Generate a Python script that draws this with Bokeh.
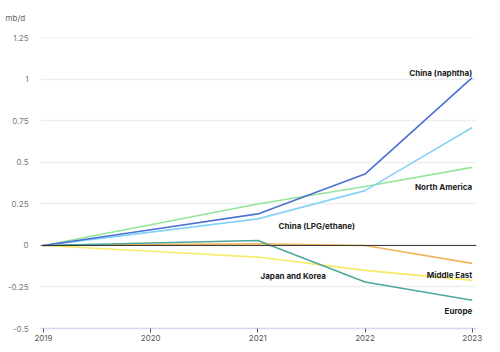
from bokeh.plotting import figure
from bokeh.models import FixedTicker, Label, Span
from bokeh.embed import file_html
from bokeh.resources import INLINE

years = [2019, 2020, 2021, 2022, 2023]
china_naphtha = [0, 0.095, 0.19, 0.43, 1.01]
china_lpg = [0, 0.08, 0.16, 0.33, 0.71]
north_america = [0, 0.125, 0.25, 0.355, 0.47]
europe = [0, 0.015, 0.03, -0.22, -0.33]
middle_east = [0, 0.005, 0.01, 0.0, -0.108]
japan_korea = [0, -0.035, -0.07, -0.15, -0.21]

series = [
    ("North America", north_america, "#93e59a"),
    ("Japan and Korea", japan_korea, "#f7ea6a"),
    ("Middle East", middle_east, "#f2b45c"),
    ("Europe", europe, "#4ea89c"),
    ("China (LPG/ethane)", china_lpg, "#86d3f7"),
    ("China (naphtha)", china_naphtha, "#4c6fd1"),
]

y_ticks = [-0.5, -0.25, 0, 0.25, 0.5, 0.75, 1, 1.25]
y_tick_labels = ["-0.5", "-0.25", "0", "0.25", "0.5", "0.75", "1", "1.25"]

# label anchors (data coords) and alignment
labels = [
    ("China (naphtha)", 2023, 1.04, "right"),
    ("North America", 2023, 0.35, "right"),
    ("China (LPG/ethane)", 2021.55, 0.12, "center"),
    ("Middle East", 2023, -0.175, "right"),
    ("Japan and Korea", 2021.33, -0.185, "center"),
    ("Europe", 2023, -0.395, "right"),
]

p = figure(width=500, height=352, output_backend="svg", toolbar_location=None,
           x_range=(2018.972, 2023.04), y_range=(-0.5, 1.252),
           min_border_left=40, min_border_right=24, min_border_top=37, min_border_bottom=24,
           title="mb/d")
p.title.text_font = "Inter"
p.title.text_font_size = "8px"
p.title.text_font_style = "normal"
p.title.text_color = "#666666"
p.title.align = "left"
p.title.offset = -35
p.title.standoff = 25
p.title.vertical_align = "top"
p.outline_line_color = None
p.background_fill_color = "white"
p.border_fill_color = "white"

p.xgrid.grid_line_color = None
p.ygrid.grid_line_color = "#eeeeee"
p.ygrid.grid_line_width = 1.5
p.yaxis.ticker = FixedTicker(ticks=y_ticks)
p.yaxis.major_label_overrides = {t: l for t, l in zip(y_ticks, y_tick_labels)}
p.yaxis.axis_line_color = None
p.yaxis.major_tick_line_color = None
p.yaxis.minor_tick_line_color = None
p.yaxis.major_label_text_font_size = "8px"
p.yaxis.major_label_text_color = "#777777"
p.yaxis.major_label_text_font = "Inter"
p.yaxis.major_label_standoff = 6

p.xaxis.ticker = FixedTicker(ticks=years)
p.xaxis.axis_line_color = "#d4d8f2"
p.xaxis.axis_line_width = 1.5
p.xaxis.major_tick_line_color = "#555555"
p.xaxis.major_tick_in = 0
p.xaxis.major_tick_out = 4
p.xaxis.minor_tick_line_color = None
p.xaxis.major_label_text_font_size = "8px"
p.xaxis.major_label_text_color = "#555555"
p.xaxis.major_label_text_font = "Inter"
p.xaxis.major_label_standoff = 2

p.add_layout(Span(location=0, dimension="width", line_color="#333333", line_width=1))

for name, vals, color in series:
    p.line(years, vals, line_color=color, line_width=1.6)

for text, x, y, align in labels:
    p.add_layout(Label(x=x, y=y, text=text, text_align=align, text_baseline="middle",
                       text_font="Inter", text_font_size="8px", text_font_style="bold",
                       text_color="#222222"))

open("out.html", "w").write(file_html(p, INLINE))
